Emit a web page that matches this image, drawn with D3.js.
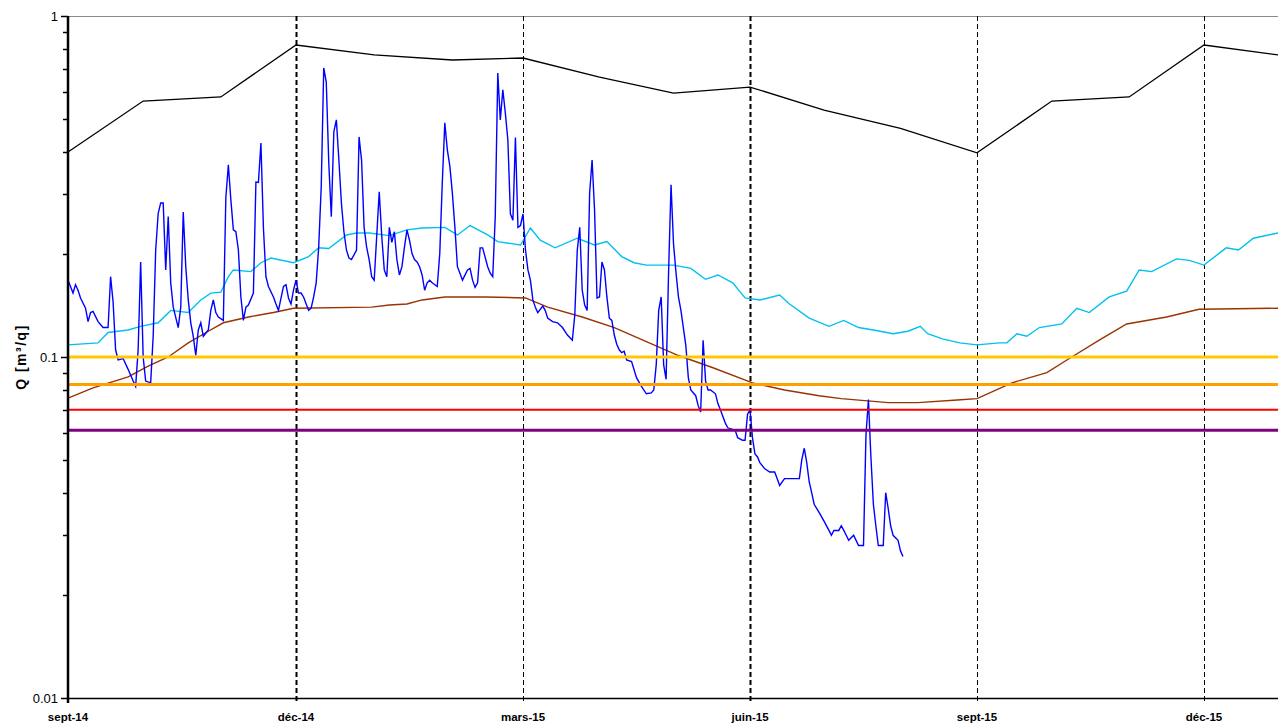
<!DOCTYPE html>
<html><head><meta charset="utf-8">
<script src="https://cdn.jsdelivr.net/npm/d3@7"></script>
<style>
body{margin:0;background:#fff;}
svg{display:block;}
text{font-family:"Liberation Sans",Arial,sans-serif;fill:#000;}
</style>
</head><body>
<svg id="c" width="1278" height="724"></svg>
<script>
// ---------- DATA ----------
const startDate = "2014-09-01";
const endDate = "2015-12-31";
const quarterTicks = ["2014-09-01","2014-12-01","2015-03-01","2015-06-01","2015-09-01","2015-12-01"];
const quarterLabels = ["sept-14","déc-14","mars-15","juin-15","sept-15","déc-15"];
const yMajorTicks = [1, 0.1, 0.01];
const yMajorLabels = ["1","0.1","0.01"];
const yTitle = "Q [m³/q]";

// horizontal threshold values (m3/s)
const thresholdValues = [0.1, 0.083, 0.070, 0.061];

// [day since 2014-09-01, Q]
const dailyFlow = [[0,.168],[1,.161],[2,.154],[3,.163],[4,.157],[5,.149],[7,.139],[8,.127],[9,.135],[10,.136],[12,.127],[14,.122],[16,.122],[17,.172],[18,.145],[19,.105],[20,.098],[22,.099],[24,.092],[26,.085],[27,.082],[28,.105],[29,.190],[30,.100],[31,.085],[33,.084],[34,.115],[35,.206],[36,.264],[37,.283],[38,.283],[39,.180],[40,.258],[41,.165],[42,.140],[44,.122],[45,.140],[46,.266],[47,.184],[48,.147],[49,.126],[50,.115],[51,.101],[52,.120],[53,.126],[54,.115],[56,.120],[57,.137],[58,.147],[59,.135],[60,.131],[62,.128],[63,.293],[64,.366],[65,.289],[66,.236],[67,.233],[68,.206],[69,.150],[70,.128],[71,.140],[72,.142],[74,.154],[75,.326],[76,.325],[77,.424],[78,.239],[79,.172],[80,.161],[82,.150],[83,.143],[84,.137],[86,.161],[87,.163],[88,.149],[89,.143],[90,.157],[91,.168],[92,.154],[93,.154],[94,.150],[96,.137],[97,.139],[98,.150],[99,.165],[100,.210],[101,.315],[102,.704],[103,.640],[104,.370],[105,.258],[106,.457],[107,.496],[108,.378],[109,.283],[110,.233],[111,.206],[112,.195],[113,.193],[115,.206],[116,.442],[117,.378],[118,.240],[119,.210],[120,.193],[121,.172],[122,.168],[123,.226],[124,.305],[125,.226],[126,.180],[127,.172],[128,.240],[129,.217],[130,.233],[131,.193],[132,.174],[133,.184],[134,.210],[135,.236],[136,.220],[137,.201],[138,.193],[139,.190],[140,.184],[141,.174],[142,.157],[143,.165],[144,.168],[145,.165],[147,.161],[148,.201],[149,.325],[150,.486],[151,.405],[152,.363],[153,.302],[154,.240],[155,.184],[156,.176],[157,.168],[159,.180],[160,.182],[161,.168],[162,.160],[163,.165],[164,.209],[165,.209],[167,.184],[168,.176],[169,.172],[170,.258],[171,.680],[172,.496],[173,.607],[174,.519],[175,.433],[176,.263],[177,.252],[178,.440],[179,.240],[180,.243],[181,.263],[182,.206],[183,.180],[184,.168],[185,.147],[186,.140],[187,.135],[189,.141],[190,.137],[191,.130],[193,.127],[195,.126],[197,.122],[199,.116],[201,.112],[202,.133],[203,.206],[204,.240],[205,.157],[206,.142],[207,.137],[208,.302],[209,.378],[210,.270],[211,.149],[212,.150],[213,.190],[214,.180],[215,.150],[216,.130],[217,.128],[218,.116],[219,.109],[220,.105],[221,.103],[222,.104],[223,.098],[225,.097],[227,.087],[229,.082],[231,.078],[233,.0785],[234,.080],[235,.095],[236,.137],[237,.150],[238,.095],[239,.086],[240,.177],[241,.320],[242,.215],[243,.177],[244,.150],[245,.137],[247,.108],[248,.087],[249,.080],[251,.077],[252,.072],[253,.069],[254,.112],[255,.085],[256,.080],[257,.080],[259,.078],[260,.073],[261,.070],[263,.064],[264,.062],[267,.061],[268,.058],[270,.057],[271,.057],[272,.068],[273,.070],[274,.058],[275,.052],[276,.051],[277,.049],[279,.047],[281,.046],[283,.046],[284,.044],[285,.042],[287,.044],[288,.044],[289,.044],[291,.044],[293,.044],[294,.050],[295,.054],[296,.049],[297,.043],[298,.040],[299,.037],[301,.035],[303,.033],[305,.031],[306,.030],[307,.031],[309,.031],[310,.032],[311,.031],[312,.030],[313,.029],[315,.030],[316,.029],[317,.028],[319,.028],[320,.059],[321,.075],[322,.051],[323,.037],[324,.032],[325,.028],[327,.028],[328,.040],[329,.036],[330,.032],[331,.030],[333,.029],[334,.027],[335,.026]];

const meanFlow = [[0,.1085],[12,.110],[16,.118],[24,.120],[29,.123],[36,.126],[41,.137],[48,.135],[53,.147],[57,.154],[61,.155],[64,.172],[66,.180],[73,.178],[77,.189],[81,.195],[90,.189],[96,.197],[100,.209],[104,.208],[111,.228],[115,.231],[120,.231],[128,.227],[135,.236],[141,.239],[150,.240],[155,.228],[160,.243],[167,.228],[171,.218],[180,.213],[184,.239],[188,.220],[194,.209],[203,.223],[210,.213],[215,.218],[221,.197],[226,.189],[231,.186],[242,.186],[249,.182],[255,.169],[260,.174],[266,.165],[271,.149],[277,.147],[285,.152],[289,.143],[297,.130],[305,.123],[311,.128],[317,.122],[323,.120],[331,.117],[337,.119],[342,.123],[345,.117],[351,.113],[358,.110],[365,.1085],[374,.110],[377,.110],[381,.117],[385,.115],[390,.122],[399,.125],[405,.139],[410,.135],[418,.150],[425,.156],[430,.180],[435,.178],[445,.194],[450,.192],[456,.186],[465,.209],[470,.206],[476,.223],[486,.231]];

const medianFlow = [[0,.0758],[10,.0812],[24,.0874],[32,.094],[40,.100],[48,.110],[56,.119],[62,.126],[72,.131],[82,.135],[90,.139],[121,.140],[128,.142],[135,.143],[141,.147],[150,.150],[166,.150],[182,.149],[191,.140],[205,.131],[218,.122],[231,.111],[244,.101],[258,.093],[274,.084],[287,.080],[301,.077],[310,.0755],[329,.0735],[341,.0735],[357,.0748],[365,.0755],[379,.084],[393,.090],[402,.099],[414,.112],[425,.125],[441,.131],[454,.138],[486,.139]];

const maxFlow = [[0,.399],[30,.563],[61,.579],[91,.822],[122,.769],[153,.743],[181,.753],[212,.662],[242,.594],[273,.619],[303,.530],[334,.468],[365,.397],[395,.563],[426,.579],[456,.822],[486,.769]];

// ---------- STYLE ----------
const thresholdColors = ["#FFC800","#FFA000","#FF0000","#800080"];
const thresholdWidths = [3,3,2,3];
const gridWidths = [2,1,2,1,1];

// ---------- CHART ----------
const svg = d3.select("#c");
const toDate = s => new Date(s + "T00:00:00Z");
const t0 = toDate(startDate).getTime();
const dayDate = d => new Date(t0 + d * 864e5);

const x = d3.scaleUtc()
  .domain(quarterTicks.map(toDate).concat([toDate(endDate)]))
  .range([68, 296, 523, 750, 977, 1204, 1278]);
const y = d3.scaleLog().domain([0.01, 1]).range([698, 16]);

const left = x.range()[0], right = x.range()[x.range().length - 1];

// top line at Q=1
svg.append("line").attr("x1", left).attr("x2", right)
  .attr("y1", y(1)+0.5).attr("y2", y(1)+0.5)
  .attr("stroke", "#8c8c8c").attr("stroke-width", 1);

// vertical dashed grid
svg.append("g").selectAll("line")
  .data(quarterTicks.slice(1))
  .join("line")
  .attr("x1", d => Math.round(x(toDate(d))) + 0.5)
  .attr("x2", d => Math.round(x(toDate(d))) + 0.5)
  .attr("y1", y(1)).attr("y2", y(0.01) + 5)
  .attr("stroke", "#000")
  .attr("stroke-width", (d, i) => gridWidths[i])
  .attr("stroke-dasharray", "5,3");

const line = d3.line().x(d => x(dayDate(d[0]))).y(d => y(d[1]));

svg.append("path").datum(maxFlow).attr("d", line)
  .attr("fill", "none").attr("stroke", "#000").attr("stroke-width", 1.3);
svg.append("path").datum(medianFlow).attr("d", line)
  .attr("fill", "none").attr("stroke", "#993300").attr("stroke-width", 1.4);
svg.append("path").datum(meanFlow).attr("d", line)
  .attr("fill", "none").attr("stroke", "#00C0F0").attr("stroke-width", 1.4);
svg.append("path").datum(dailyFlow).attr("d", line)
  .attr("fill", "none").attr("stroke", "#0000FF").attr("stroke-width", 1.4)
  .attr("stroke-linejoin", "miter");

// thresholds
svg.append("g").selectAll("line")
  .data(thresholdValues)
  .join("line")
  .attr("x1", left).attr("x2", right)
  .attr("y1", d => y(d)).attr("y2", d => y(d))
  .attr("stroke", (d, i) => thresholdColors[i])
  .attr("stroke-width", (d, i) => thresholdWidths[i]);

// y axis
const yAxis = svg.append("g");
yAxis.append("line").attr("x1", left).attr("x2", left)
  .attr("y1", y(1)).attr("y2", y(0.01) + 5)
  .attr("stroke", "#000").attr("stroke-width", 2.5);
const isMajor = v => yMajorTicks.some(m => Math.abs(m - v) < 1e-9);
yAxis.selectAll("line.tick")
  .data(y.ticks())
  .join("line").attr("class", "tick")
  .attr("x1", d => isMajor(d) ? left - 7 : left - 5).attr("x2", left)
  .attr("y1", d => Math.round(y(d)) + 0.5).attr("y2", d => Math.round(y(d)) + 0.5)
  .attr("stroke", "#000").attr("stroke-width", 1.5);
yAxis.selectAll("text.lab")
  .data(yMajorTicks)
  .join("text").attr("class", "lab")
  .attr("x", left - 10).attr("y", d => y(d))
  .attr("dy", "0.35em").attr("text-anchor", "end")
  .attr("font-size", 13)
  .text((d, i) => yMajorLabels[i]);
svg.append("text")
  .attr("transform", `translate(26,${y(0.1)}) rotate(-90)`)
  .attr("text-anchor", "middle")
  .attr("font-size", 14).attr("font-weight", "bold")
  .attr("letter-spacing", "1.5px")
  .text(yTitle);

// x axis
const xAxis = svg.append("g");
xAxis.append("line").attr("x1", left).attr("x2", right)
  .attr("y1", y(0.01) + 0.5).attr("y2", y(0.01) + 0.5)
  .attr("stroke", "#000").attr("stroke-width", 1.5);
xAxis.selectAll("text")
  .data(quarterTicks)
  .join("text")
  .attr("x", d => x(toDate(d))).attr("y", y(0.01) + 23)
  .attr("text-anchor", "middle")
  .attr("font-size", 11.5).attr("font-weight", "bold")
  .text((d, i) => quarterLabels[i]);
</script>
</body></html>
